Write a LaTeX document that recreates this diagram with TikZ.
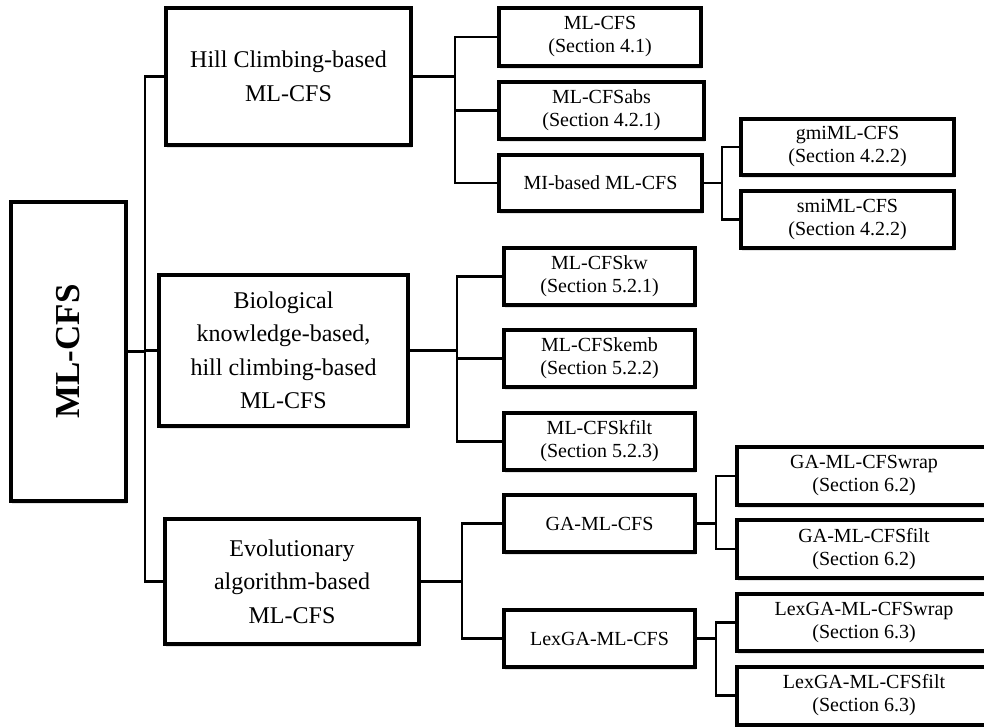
\documentclass[tikz,border=0pt]{standalone}
\usepackage{fontspec}
\usepackage{graphicx}
\setmainfont{Liberation Serif}
\usetikzlibrary{shadows,calc}
\tikzset{
  box/.style={draw=black, line width=4pt, fill=white, rectangle, inner sep=0pt, align=center,
    drop shadow={opacity=0.22, shadow xshift=1.2pt, shadow yshift=-3pt}},
  lvlone/.style={box, font=\fontsize{24}{33.5}\selectfont},
  lvltwo/.style={box, font=\fontsize{20}{23}\selectfont},
  conn/.style={draw=black, line width=2.6pt, line join=miter, line cap=rect}
}
\begin{document}
\begin{tikzpicture}[x=1pt,y=-1pt]
\useasboundingbox (0,0) rectangle (984,727);
\clip (0,0) rectangle (984,727);
\fill[white] (0,0) rectangle (984,727);
% spines
\coordinate (s1) at (145,0);
\coordinate (s2) at (455,0);
\coordinate (s3) at (457,0);
\coordinate (s4) at (462,0);
\coordinate (s5) at (722,0);
\coordinate (s6) at (716,0);
% nodes
\node[box, minimum width=115, minimum height=299, font=\fontsize{35}{35}\selectfont\bfseries] (root) at (68.5,351.5) {\rotatebox{90}{ML-CFS}};
\node[lvlone, minimum width=245, minimum height=137] (hill) at (288.5,76.5) {Hill Climbing-based\\ML-CFS};
\node[lvlone, minimum width=249, minimum height=151] (bio) at (283.5,350.5) {Biological\\knowledge-based,\\hill climbing-based\\ML-CFS};
\node[lvlone, minimum width=254, minimum height=125] (evol) at (292,581.5) {Evolutionary\\algorithm-based\\ML-CFS};
\node[lvltwo, minimum width=202, minimum height=58] (mlcfs) at (600,37) {ML-CFS\\(Section 4.1)};
\node[lvltwo, minimum width=205, minimum height=57] (abs) at (601.5,110.5) {ML-CFSabs\\(Section 4.2.1)};
\node[lvltwo, minimum width=203, minimum height=56] (mi) at (600.5,183) {MI-based ML-CFS};
\node[lvltwo, minimum width=213, minimum height=56] (gmi) at (847.5,147) {gmiML-CFS\\(Section 4.2.2)};
\node[lvltwo, minimum width=213, minimum height=57] (smi) at (847.5,219.5) {smiML-CFS\\(Section 4.2.2)};
\node[lvltwo, minimum width=191, minimum height=57] (kw) at (599.5,276.5) {ML-CFSkw\\(Section 5.2.1)};
\node[lvltwo, minimum width=191, minimum height=57] (kemb) at (599.5,358.5) {ML-CFSkemb\\(Section 5.2.2)};
\node[lvltwo, minimum width=191, minimum height=57] (kfilt) at (599.5,441.5) {ML-CFSkfilt\\(Section 5.2.3)};
\node[lvltwo, minimum width=191, minimum height=57] (ga) at (599.5,523.5) {GA-ML-CFS};
\node[lvltwo, minimum width=191, minimum height=57] (lexga) at (599.5,638.5) {LexGA-ML-CFS};
\node[lvltwo, minimum width=254, minimum height=58] (gawrap) at (864,476) {GA-ML-CFSwrap\\(Section 6.2)};
\node[lvltwo, minimum width=254, minimum height=58] (gafilt) at (864,549) {GA-ML-CFSfilt\\(Section 6.2)};
\node[lvltwo, minimum width=254, minimum height=57] (lexwrap) at (864,622.5) {LexGA-ML-CFSwrap\\(Section 6.3)};
\node[lvltwo, minimum width=254, minimum height=58] (lexfilt) at (864,695.5) {LexGA-ML-CFSfilt\\(Section 6.3)};
% connectors
\begin{scope}[on background layer/.style={}]
\path[conn] (root.east) -- (root.east -| s1);
\path[conn] (hill.west) -- (hill.west -| s1) |- (evol.west);
\path[conn] (bio.west) -- (bio.west -| s1);
\path[conn] (hill.east) -- (hill.east -| s2);
\path[conn] (mlcfs.west) -- (mlcfs.west -| s2) |- (mi.west);
\path[conn] (abs.west) -- (abs.west -| s2);
\path[conn] (mi.east) -- (mi.east -| s5);
\path[conn] (gmi.west) -- (gmi.west -| s5) |- (smi.west);
\path[conn] (bio.east) -- (bio.east -| s3);
\path[conn] (kw.west) -- (kw.west -| s3) |- (kfilt.west);
\path[conn] (kemb.west) -- (kemb.west -| s3);
\path[conn] (evol.east) -- (evol.east -| s4);
\path[conn] (ga.west) -- (ga.west -| s4) |- (lexga.west);
\path[conn] (ga.east) -- (ga.east -| s6);
\path[conn] (gawrap.west) -- (gawrap.west -| s6) |- (gafilt.west);
\path[conn] (lexga.east) -- (lexga.east -| s6);
\path[conn] (lexwrap.west) -- (lexwrap.west -| s6) |- (lexfilt.west);
\end{scope}
\end{tikzpicture}
\end{document}
